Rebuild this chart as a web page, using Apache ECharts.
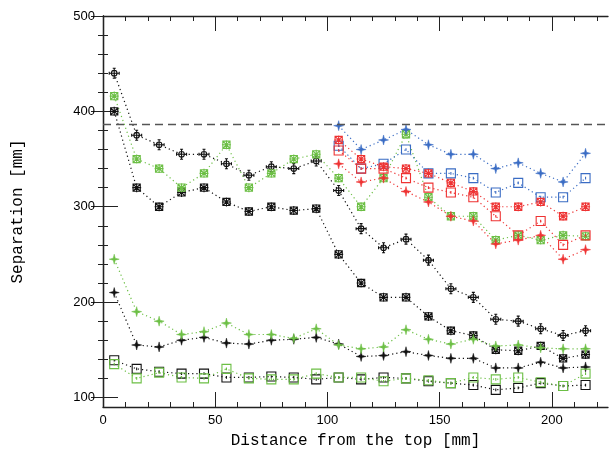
<!DOCTYPE html>
<html>
<head>
<meta charset="utf-8">
<script src="https://cdn.jsdelivr.net/npm/echarts@6/dist/echarts.min.js"></script>
<style>html,body{margin:0;padding:0;background:#fff;}#c{width:613px;height:453px;}</style>
</head>
<body>
<div id="c"></div>
<script>
// ---- data ----
var xFull = [5,15,25,35,45,55,65,75,85,95,105,115,125,135,145,155,165,175,185,195,205,215];
var xPart = [105,115,125,135,145,155,165,175,185,195,205,215];

var blackCircle = [440,375,365,355,355,345,333,342,340,348,317,277,257,266,244,214,205,182,180,172,165,170];
var blackSqX    = [400,320,300,315,320,305,295,300,296,298,250,220,205,205,185,170,165,150,149,154,141,145];
var blackStar   = [210,155,153,160,163,157,156,160,161,163,156,143,144,148,144,141,141,131,131,137,131,132];
var blackSq     = [139,130,127,125,125,121,121,122,121,119,121,119,121,120,117,115,113,108,110,115,112,113];
var greenSqX    = [416,350,340,320,335,365,320,335,350,355,330,300,330,376,310,290,290,265,270,265,270,269];
var greenStar   = [245,190,180,166,169,178,166,166,162,172,155,151,153,171,161,156,161,154,155,152,151,151];
var greenSq     = [135,120,126,121,120,130,120,119,119,125,121,121,117,120,118,115,121,119,121,116,112,125];
var blueStar    = [385,360,370,381,365,355,355,340,346,335,326,356];
var blueSq      = [364,340,345,360,335,335,330,315,325,310,310,330];
var redSqX      = [370,350,342,340,335,325,316,300,300,305,290,300];
var redSq       = [359,340,340,330,320,315,310,290,270,285,260,270];
var redStar     = [345,326,330,316,305,290,285,261,265,270,245,255];

var refLine = 386;

var xMajor = [0,50,100,150,200];
var xMinor = [10,20,30,40,60,70,80,90,110,120,130,140,160,170,180,190,210,220];
var yMajor = [100,200,300,400,500];
var yMinor = [120,140,160,180,220,240,260,280,320,340,360,380,420,440,460,480];

// ---- styling ----
var BLACK = '#111111', GREEN = '#6cbf45', BLUE = '#3a6cc4', RED = '#ee3333';
var SYM = {
  circ: 'path://M5,0L5,10M3.5,0L6.5,0M3.5,10L6.5,10M0,5L10,5M0,3.5L0,6.5M10,3.5L10,6.5M2.2,5A2.8,2.8 0 1 1 7.8,5A2.8,2.8 0 1 1 2.2,5',
  sqx: 'path://M1,1L9,1L9,9L1,9ZM1,1L9,9M9,1L1,9M5,0L5,10M0,5L10,5',
  star: 'path://M5,0L6,4L10,5L6,6L5,10L4,6L0,5L4,4Z',
  sq: 'path://M0,0L10,0L10,10L0,10ZM5,3.5L5,6.5'
};

function pairs(xs, ys){ return xs.map(function(x,i){ return [x, ys[i]]; }); }

function mk(name, xs, ys, color, sym, size, filled){
  return {
    name: name, type: 'line', xAxisIndex: 0, yAxisIndex: 0,
    data: pairs(xs, ys),
    symbol: SYM[sym], symbolSize: size, showSymbol: true,
    lineStyle: { color: color, width: 1.2, type: [1.2, 3] },
    itemStyle: filled ? { color: color, borderColor: color, borderWidth: 0.5 }
                      : { color: 'rgba(255,255,255,0)', borderColor: color, borderWidth: 1.1 },
    emphasis: { disabled: true }, animation: false, z: 3
  };
}

var series = [
  mk('blackCircle', xFull, blackCircle, BLACK, 'circ', 10, false),
  mk('blackSqX', xFull, blackSqX, BLACK, 'sqx', 9, false),
  mk('blackStar', xFull, blackStar, BLACK, 'star', 10, true),
  mk('blackSq', xFull, blackSq, BLACK, 'sq', 9, false),
  mk('greenSqX', xFull, greenSqX, GREEN, 'sqx', 9, false),
  mk('greenStar', xFull, greenStar, GREEN, 'star', 10, true),
  mk('greenSq', xFull, greenSq, GREEN, 'sq', 9, false),
  mk('blueStar', xPart, blueStar, BLUE, 'star', 10, true),
  mk('blueSq', xPart, blueSq, BLUE, 'sq', 9, false),
  mk('redSqX', xPart, redSqX, RED, 'sqx', 9, false),
  mk('redSq', xPart, redSq, RED, 'sq', 9, false),
  mk('redStar', xPart, redStar, RED, 'star', 10, true)
];
series[0].markLine = {
  silent: true, symbol: ['none','none'], label: { show: false },
  lineStyle: { color: '#555', type: [8, 5], width: 1.3 },
  data: [{ yAxis: refLine }], animation: false
};

var lineStyle = { color: '#222', width: 1.3 };
var labelFont = { color: '#000', fontFamily: 'Liberation Sans', fontSize: 13 };
var titleFont = { color: '#000', fontFamily: 'Liberation Mono', fontSize: 16 };

function xAx(pos, vals, len, labels, line, extra){
  var a = {
    type: 'value', position: pos, min: 0, max: 225,
    axisLine: { show: line, lineStyle: lineStyle },
    axisTick: { show: true, inside: true, length: len, customValues: vals, lineStyle: { color: '#222', width: 1 } },
    axisLabel: labels ? Object.assign({ show: true, customValues: xMajor, margin: 7 }, labelFont) : { show: false },
    splitLine: { show: false }
  };
  return Object.assign(a, extra || {});
}
function yAx(pos, vals, len, labels, line, extra){
  var a = {
    type: 'value', position: pos, min: 90, max: 500,
    axisLine: { show: line, lineStyle: lineStyle },
    axisTick: { show: true, inside: true, length: len, customValues: vals, lineStyle: { color: '#222', width: 1 } },
    axisLabel: labels ? Object.assign({ show: true, customValues: yMajor, margin: 8 }, labelFont) : { show: false },
    splitLine: { show: false }
  };
  return Object.assign(a, extra || {});
}

var option = {
  backgroundColor: '#fff',
  animation: false,
  grid: { left: 103, right: 5, top: 16, bottom: 46, containLabel: false, outerBoundsMode: 'none' },
  xAxis: [
    xAx('bottom', xMajor, 15, true, true, {
      name: 'Distance from the top [mm]', nameLocation: 'middle', nameGap: 26,
      nameTextStyle: titleFont
    }),
    xAx('bottom', xMinor, 5, false, false),
    xAx('top', xMajor, 15, false, true),
    xAx('top', xMinor, 5, false, false)
  ],
  yAxis: [
    yAx('left', yMajor, 15, true, true, {
      name: 'Separation [mm]', nameLocation: 'middle', nameGap: 77,
      nameTextStyle: titleFont
    }),
    yAx('left', yMinor, 5, false, false),
    yAx('right', yMajor, 12, false, true),
    yAx('right', yMinor, 5, false, false)
  ],
  series: series
};

var chart = echarts.init(document.getElementById('c'), null, { renderer: 'canvas' });
chart.setOption(option);
</script>
</body>
</html>
